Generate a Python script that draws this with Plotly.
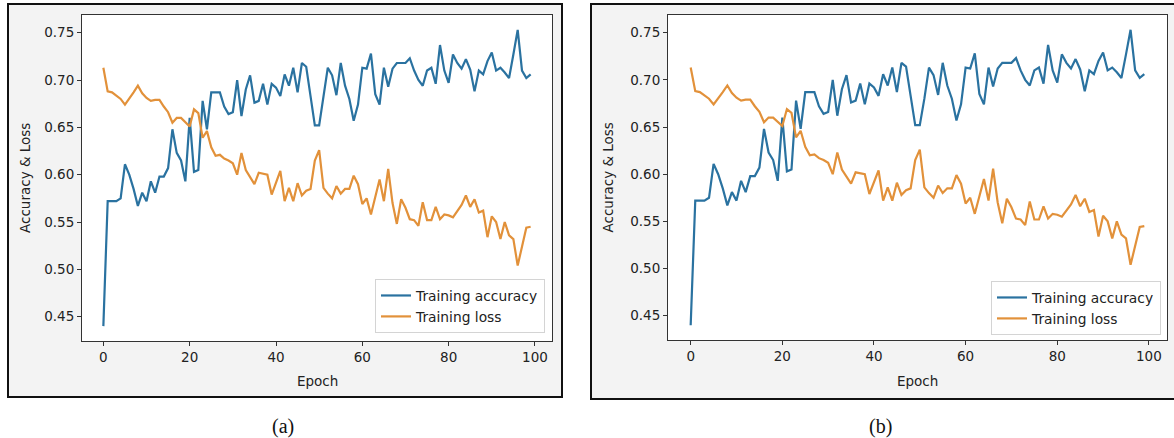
import plotly.graph_objects as go

W, H = 1174, 438

epochs = list(range(100))

training_accuracy = [
    0.440, 0.572, 0.572, 0.572, 0.575, 0.611, 0.600, 0.585, 0.567, 0.581,
    0.572, 0.593, 0.581, 0.598, 0.598, 0.607, 0.648, 0.623, 0.615, 0.593,
    0.660, 0.603, 0.605, 0.678, 0.648, 0.687, 0.687, 0.687, 0.672, 0.664,
    0.666, 0.700, 0.662, 0.690, 0.705, 0.676, 0.678, 0.696, 0.674, 0.696,
    0.692, 0.683, 0.706, 0.694, 0.713, 0.687, 0.718, 0.714, 0.683, 0.652,
    0.652, 0.680, 0.713, 0.705, 0.684, 0.718, 0.694, 0.680, 0.657, 0.674,
    0.713, 0.712, 0.728, 0.685, 0.674, 0.713, 0.693, 0.712, 0.718, 0.718,
    0.718, 0.723, 0.710, 0.700, 0.694, 0.710, 0.713, 0.696, 0.737, 0.710,
    0.697, 0.727, 0.718, 0.712, 0.722, 0.711, 0.688, 0.710, 0.706, 0.720,
    0.729, 0.710, 0.713, 0.708, 0.702, 0.727, 0.753, 0.710, 0.702, 0.706,
]

training_loss = [
    0.713, 0.688, 0.687, 0.683, 0.680, 0.674, 0.680, 0.687, 0.694, 0.686,
    0.681, 0.678, 0.679, 0.679, 0.672, 0.666, 0.655, 0.660, 0.660, 0.656,
    0.651, 0.669, 0.665, 0.639, 0.646, 0.629, 0.620, 0.621, 0.617, 0.615,
    0.612, 0.600, 0.623, 0.605, 0.597, 0.590, 0.602, 0.601, 0.600, 0.579,
    0.592, 0.604, 0.572, 0.586, 0.572, 0.591, 0.578, 0.583, 0.585, 0.615,
    0.626, 0.586, 0.580, 0.575, 0.588, 0.580, 0.585, 0.585, 0.599, 0.590,
    0.569, 0.575, 0.558, 0.578, 0.595, 0.572, 0.606, 0.570, 0.548, 0.574,
    0.565, 0.553, 0.552, 0.546, 0.571, 0.552, 0.552, 0.566, 0.553, 0.558,
    0.557, 0.555, 0.561, 0.568, 0.578, 0.566, 0.574, 0.560, 0.562, 0.534,
    0.556, 0.550, 0.532, 0.550, 0.536, 0.532, 0.504, 0.524, 0.544, 0.545,
]

x_ticks = [0, 20, 40, 60, 80, 100]
y_ticks = [0.45, 0.50, 0.55, 0.60, 0.65, 0.70, 0.75]
y_tick_text = ["%.2f" % v for v in y_ticks]

panel_labels = ["(a)", "(b)"]
series_names = ["Training accuracy", "Training loss"]

BLUE = "#2a72a0"
ORANGE = "#e2913a"
TXT = "#222222"
FONT = "DejaVu Sans"


def px(x):
    return x / W


def py(y):
    return 1 - y / H


# pixel geometry of the two panels
panels = [
    dict(box=(8, 4, 562, 397), plot=(82, 15, 552, 341), legend=(545, 333),
         ylab=25, lab=283),
    dict(box=(591, 4, 1177, 399), plot=(668, 15, 1167, 340), legend=(1161, 335),
         ylab=607, lab=880),
]

fig = go.Figure()
shapes = []
annotations = []
layout = {}

for i, p in enumerate(panels):
    n = "" if i == 0 else str(i + 1)
    xa, ya = "x" + n, "y" + n
    leg = "legend" + n
    fig.add_trace(go.Scatter(x=epochs, y=training_accuracy, mode="lines",
                             name=series_names[0], line=dict(color=BLUE, width=2.2),
                             xaxis=xa, yaxis=ya, legend=leg))
    fig.add_trace(go.Scatter(x=epochs, y=training_loss, mode="lines",
                             name=series_names[1], line=dict(color=ORANGE, width=2.2),
                             xaxis=xa, yaxis=ya, legend=leg))
    bx0, by0, bx1, by1 = p["box"]
    x0, y0, x1, y1 = p["plot"]
    shapes.append(dict(type="rect", xref="paper", yref="paper", layer="below",
                       x0=px(bx0), x1=px(bx1), y0=py(by1), y1=py(by0),
                       fillcolor="#f3f3f3", line=dict(color="#111111", width=2)))
    shapes.append(dict(type="rect", xref="paper", yref="paper", layer="below",
                       x0=px(x0), x1=px(x1), y0=py(y1), y1=py(y0),
                       fillcolor="white", line=dict(width=0)))
    axis_common = dict(showline=True, mirror=True, linecolor="#333333", linewidth=1,
                       ticks="outside", ticklen=4, tickcolor="#333333", tickwidth=1,
                       showgrid=False, zeroline=False,
                       tickfont=dict(family=FONT, size=13.5, color=TXT))
    layout["xaxis" + n] = dict(axis_common, domain=[px(x0), px(x1)], anchor=ya,
                               range=[-4.95, 103.95], tickvals=x_ticks)
    layout["yaxis" + n] = dict(axis_common, domain=[py(y1), py(y0)], anchor=xa,
                               range=[0.4243, 0.7687], tickvals=y_ticks,
                               ticktext=y_tick_text)
    lx, ly = p["legend"]
    layout[leg] = dict(x=px(lx), y=py(ly), xanchor="right", yanchor="bottom",
                       bgcolor="white", bordercolor="#d4d4d4", borderwidth=1,
                       font=dict(family=FONT, size=13.8, color=TXT),
                       tracegroupgap=0, itemwidth=30)
    annotations.append(dict(text="Epoch", xref="paper", yref="paper",
                            x=px((x0 + x1) / 2), y=py(381), showarrow=False,
                            xanchor="center", yanchor="middle",
                            font=dict(family=FONT, size=13.5, color=TXT)))
    annotations.append(dict(text="Accuracy & Loss", xref="paper", yref="paper",
                            x=px(p["ylab"]), y=py((y0 + y1) / 2), showarrow=False,
                            textangle=-90, xanchor="center", yanchor="middle",
                            font=dict(family=FONT, size=13.5, color=TXT)))
    annotations.append(dict(text=panel_labels[i], xref="paper", yref="paper",
                            x=px(p["lab"]), y=py(426), showarrow=False,
                            xanchor="center", yanchor="middle",
                            font=dict(family="Liberation Serif", size=20, color="#111111")))

fig.update_layout(
    width=W, height=H,
    margin=dict(l=0, r=0, t=0, b=0),
    paper_bgcolor="white", plot_bgcolor="white",
    shapes=shapes, annotations=annotations,
    **layout,
)

fig.write_html("out.html", config={"displayModeBar": False})

# remove the browser's default page margin so the figure sits at (0, 0)
with open("out.html", "r", encoding="utf-8") as f:
    html = f.read()
html = html.replace("<head>", "<head><style>html,body{margin:0;padding:0;overflow:hidden;}</style>", 1)
with open("out.html", "w", encoding="utf-8") as f:
    f.write(html)
